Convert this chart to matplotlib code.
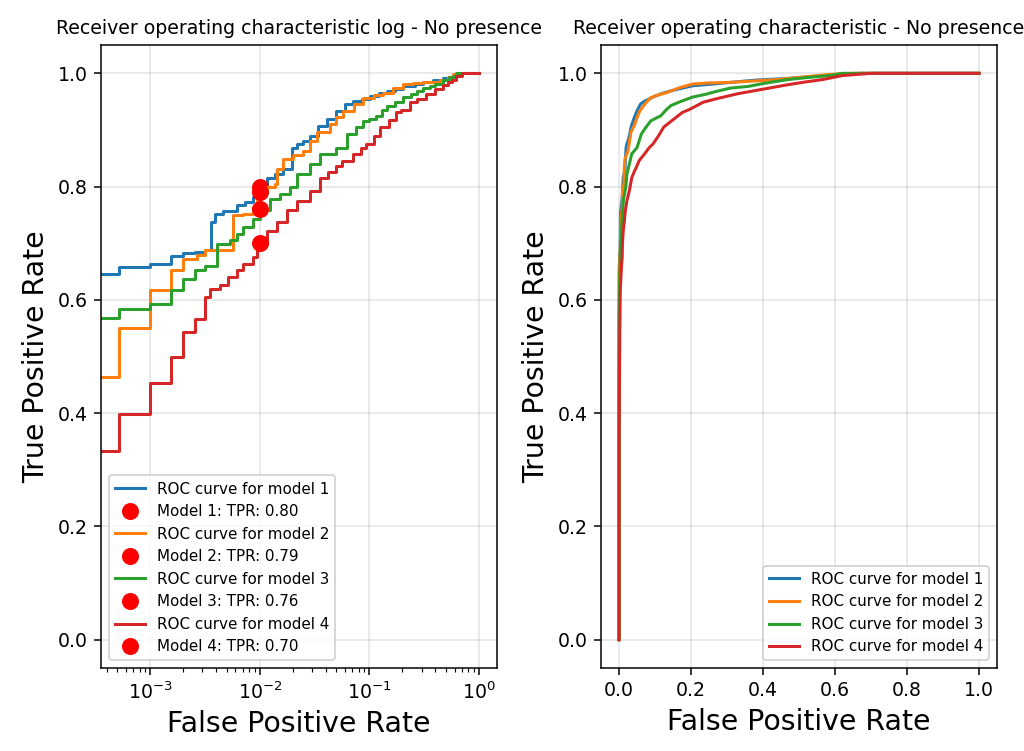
import matplotlib
matplotlib.use('Agg')
import matplotlib.pyplot as plt

# Pontos (fpr, tpr), em forma de degraus
fpr_m1 = [0, 0, 5.2e-4, 1.0e-3, 1.54e-3, 2.0e-3, 2.57e-3, 3.2e-3, 3.57e-3, 3.9e-3, 4.66e-3,
          6.2e-3, 7.3e-3, 8.7e-3, 9.7e-3, 0.0116, 0.0138, 0.0164, 0.0195, 0.0217, 0.025,
          0.0287, 0.0342, 0.0407, 0.050, 0.060, 0.0712, 0.085, 0.101, 0.122, 0.144, 0.17,
          0.204, 0.26, 0.31, 0.38, 0.47, 0.585, 0.67, 1.0]
tpr_m1 = [0, 0.646, 0.658, 0.664, 0.677, 0.682, 0.685, 0.688, 0.737, 0.752, 0.757,
          0.767, 0.772, 0.781, 0.790, 0.816, 0.822, 0.831, 0.869, 0.875, 0.881,
          0.890, 0.907, 0.919, 0.934, 0.946, 0.951, 0.955, 0.960, 0.965, 0.969, 0.973,
          0.978, 0.981, 0.984, 0.988, 0.991, 0.997, 1.0, 1.0]

fpr_m2 = [0, 0, 5.2e-4, 1.0e-3, 1.54e-3, 2.0e-3, 2.66e-3, 3.2e-3, 5.75e-3, 7.1e-3, 8.7e-3,
          9.4e-3, 0.0116, 0.0138, 0.0143, 0.0164, 0.020, 0.025, 0.029, 0.033, 0.0437,
          0.050, 0.058, 0.072, 0.088, 0.11, 0.133, 0.165, 0.204, 0.25, 0.31, 0.44, 0.52,
          0.585, 0.65, 1.0]
tpr_m2 = [0, 0.464, 0.551, 0.618, 0.652, 0.673, 0.680, 0.688, 0.749, 0.752, 0.764,
          0.793, 0.799, 0.805, 0.831, 0.849, 0.855, 0.863, 0.880, 0.896, 0.910,
          0.922, 0.934, 0.946, 0.957, 0.962, 0.966, 0.974, 0.981, 0.983, 0.984, 0.989, 0.994,
          0.998, 1.0, 1.0]

fpr_m3 = [0, 0, 5.2e-4, 1.0e-3, 1.54e-3, 2.0e-3, 2.57e-3, 3.2e-3, 4.1e-3, 5.35e-3, 6.2e-3,
          7.1e-3, 8.7e-3, 0.0101, 0.0124, 0.0153, 0.0188, 0.0217, 0.0287, 0.0354, 0.050,
          0.062, 0.075, 0.088, 0.100, 0.116, 0.130, 0.144, 0.17, 0.204, 0.241, 0.27, 0.31,
          0.36, 0.40, 0.47, 0.53, 0.585, 0.62, 1.0]
tpr_m3 = [0, 0.568, 0.584, 0.593, 0.618, 0.636, 0.652, 0.660, 0.699, 0.705, 0.717,
          0.728, 0.743, 0.758, 0.778, 0.787, 0.799, 0.822, 0.840, 0.858, 0.869,
          0.893, 0.905, 0.916, 0.920, 0.925, 0.935, 0.943, 0.950, 0.958, 0.963, 0.968, 0.974,
          0.977, 0.982, 0.989, 0.993, 0.996, 1.0, 1.0]

fpr_m4 = [0, 0, 5.2e-4, 1.0e-3, 1.54e-3, 2.0e-3, 2.57e-3, 3.2e-3, 3.5e-3, 4.34e-3, 5.17e-3,
          6.2e-3, 7.1e-3, 8.7e-3, 9.4e-3, 0.0116, 0.0143, 0.0176, 0.0217, 0.0287, 0.0354,
          0.042, 0.050, 0.056, 0.0712, 0.084, 0.094, 0.11, 0.124, 0.15, 0.176, 0.195, 0.234,
          0.27, 0.33, 0.40, 0.47, 0.52, 0.566, 0.62, 0.70, 1.0]
tpr_m4 = [0, 0.334, 0.398, 0.453, 0.500, 0.543, 0.567, 0.605, 0.620, 0.626, 0.640,
          0.652, 0.664, 0.675, 0.699, 0.722, 0.737, 0.758, 0.775, 0.793, 0.816,
          0.826, 0.837, 0.846, 0.858, 0.869, 0.875, 0.890, 0.905, 0.918, 0.931, 0.936, 0.949,
          0.955, 0.964, 0.972, 0.980, 0.985, 0.989, 0.996, 1.0, 1.0]

fprs = [fpr_m1, fpr_m2, fpr_m3, fpr_m4]
tprs = [tpr_m1, tpr_m2, tpr_m3, tpr_m4]
modelos = ['model 1', 'model 2', 'model 3', 'model 4']
fpr_alvo = 0.01
tpr_alvo = [0.80, 0.79, 0.76, 0.70]

dpi = 136
fig, (ax1, ax2) = plt.subplots(1, 2, figsize=(1024 / dpi, 751 / dpi), dpi=dpi)
fig.subplots_adjust(left=101 / 1024, right=997 / 1024, bottom=1 - 668 / 751,
                    top=1 - 45 / 751, wspace=0.263)

# Gráfico em escala log
for i in range(4):
    ax1.plot(fprs[i], tprs[i], drawstyle='steps-post', lw=1.6,
             label='ROC curve for ' + modelos[i])
    ax1.plot(fpr_alvo, tpr_alvo[i], 'ro', markersize=8,
             label='Model %d: TPR: %.2f' % (i + 1, tpr_alvo[i]))
ax1.set_xscale('log')
ax1.set_title('Receiver operating characteristic log - No presence', fontsize=10)
ax1.set_xlabel('False Positive Rate', fontsize=15)
ax1.set_ylabel('True Positive Rate', fontsize=15)
ax1.grid(alpha=0.35)
ax1.legend(loc='lower left', fontsize=8)

# Gráfico linear (degraus pequenos demais para aparecer)
for i in range(4):
    ax2.plot(fprs[i], tprs[i], lw=1.6, label='ROC curve for ' + modelos[i])
ax2.set_title('Receiver operating characteristic - No presence', fontsize=10)
ax2.set_xlabel('False Positive Rate', fontsize=15)
ax2.set_ylabel('True Positive Rate', fontsize=15)
ax2.grid(alpha=0.35)
ax2.legend(loc='lower right', fontsize=8)

plt.savefig('out.png', dpi=dpi)
